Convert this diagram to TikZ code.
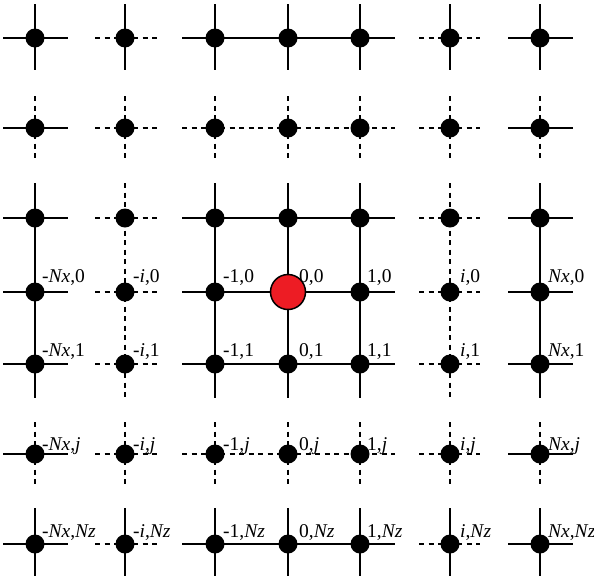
\documentclass[tikz,border=0pt]{standalone}
\usepackage{fontspec}
\setmainfont{Liberation Serif}
\usetikzlibrary{backgrounds}
\definecolor{nodered}{RGB}{237,28,36}
\begin{document}
\begin{tikzpicture}[x=1pt,y=-1pt,
  lat/.style={line width=2pt, black},
  dsh/.style={lat, dash pattern=on 5pt off 4.5pt},
  pt/.style={circle, fill=black, inner sep=0pt, minimum size=19pt},
  src/.style={circle, fill=nodered, draw=black, line width=1.5pt, inner sep=0pt, minimum size=35pt},
  lbl/.style={anchor=base west, inner sep=0pt, font=\fontsize{19.5}{19.5}\selectfont}]
\useasboundingbox (0,0) rectangle (594,576);
% lattice points
\foreach \c/\x in {1/35,2/125,3/215,4/288,5/360,6/450,7/540}{
  \foreach \r/\y in {1/38,2/128,3/218,4/292,5/364,6/454,7/544}{
    \ifnum\c\r=44\relax
      \node[src] (n\c\r) at (\x,\y) {};
    \else
      \node[pt] (n\c\r) at (\x,\y) {};
    \fi
  }
}
\begin{pgfonlayer}{background}
% horizontal lines
\foreach \r/\rs in {1/lat,2/dsh,3/lat,4/lat,5/lat,6/dsh,7/lat}{
  \draw[lat] ([xshift=-32pt]n1\r.center) -- ([xshift=33pt]n1\r.center);
  \draw[dsh] ([xshift=-30pt]n2\r.center) -- ([xshift=32pt]n2\r.center);
  \draw[\rs] ([xshift=-33pt]n3\r.center) -- (n4\r.center) -- ([xshift=35pt]n5\r.center);
  \draw[dsh] ([xshift=-31pt]n6\r.center) -- ([xshift=30pt]n6\r.center);
  \draw[lat] ([xshift=-32pt]n7\r.center) -- ([xshift=33pt]n7\r.center);
}
% vertical lines
\foreach \c/\cs in {1/lat,2/dsh,3/lat,4/lat,5/lat,6/dsh,7/lat}{
  \draw[lat] ([yshift=34pt]n\c1.center) -- ([yshift=-32pt]n\c1.center);
  \draw[dsh] ([yshift=32pt]n\c2.center) -- ([yshift=-31pt]n\c2.center);
  \draw[\cs] ([yshift=35pt]n\c3.center) -- (n\c4.center) -- ([yshift=-34pt]n\c5.center);
  \draw[dsh] ([yshift=32pt]n\c6.center) -- ([yshift=-31pt]n\c6.center);
  \draw[lat] ([yshift=36pt]n\c7.center) -- ([yshift=-32pt]n\c7.center);
}
\end{pgfonlayer}
% labels
\foreach \r/\rt/\dy in {4/0/10,5/1/8,6/\textit{j}/4,7/\textit{Nz}/7}{
  \foreach \c/\ct/\dx in {1/{-\textit{Nx}}/7,2/{-\textit{i}}/8,3/-1/8,4/0/11,5/1/7,6/\textit{i}/10,7/\textit{Nx}/8}{
    \node[lbl] (l\c\r) at ([xshift=\dx pt,yshift=\dy pt]n\c\r.center) {\ct,\rt};
  }
}
\end{tikzpicture}
\end{document}
